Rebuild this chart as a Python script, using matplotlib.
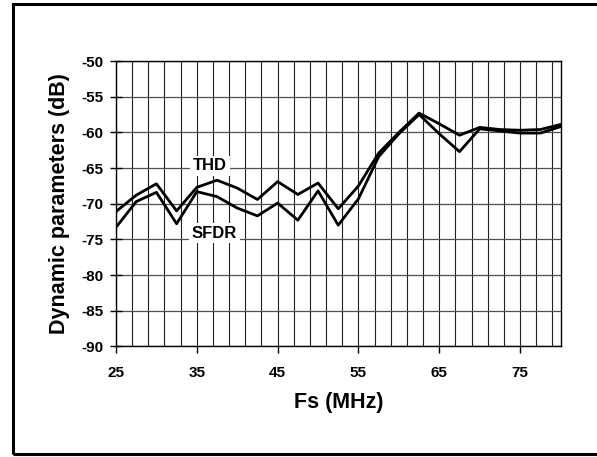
import numpy as np
import matplotlib
matplotlib.use("Agg")
import matplotlib.pyplot as plt
from matplotlib.patches import Rectangle

plt.rcParams['font.family'] = ['Liberation Sans', 'DejaVu Sans']
plt.rcParams['font.weight'] = 'bold'
plt.rcParams['axes.unicode_minus'] = False

# sampling frequency (MHz)
fs = [25, 27.5, 30, 32.5, 35, 37.5, 40, 42.5, 45, 47.5, 50, 52.5,
      55, 57.5, 60, 62.5, 65, 67.5, 70, 72.5, 75, 77.5, 80]
# THD and SFDR (dB)
thd = [-71.1, -68.8, -67.2, -71.0, -67.7, -66.7, -67.8, -69.4, -66.9, -68.7, -67.1, -70.7,
       -67.5, -62.9, -60.0, -57.3, -58.8, -60.4, -59.3, -59.6, -59.7, -59.6, -58.9]
sfdr = [-73.3, -69.7, -68.4, -72.8, -68.3, -69.0, -70.6, -71.7, -69.9, -72.3, -68.2, -73.0,
        -69.3, -63.4, -60.2, -57.5, -60.2, -62.7, -59.5, -59.8, -60.1, -60.1, -59.2]

xticks = [25, 35, 45, 55, 65, 75]
yticks = [-90, -85, -80, -75, -70, -65, -60, -55, -50]

fig = plt.figure(figsize=(5.97, 4.57), dpi=100)
ax = fig.add_axes([0.1943, 0.2418, 0.7446, 0.6247])

ax.plot(fs, thd, color='black', lw=2.0, zorder=3)
ax.plot(fs, sfdr, color='black', lw=2.0, zorder=3)

ax.set_xlim(25, 80)
ax.set_ylim(-90, -50)
ax.set_xticks(xticks)
ax.set_xticks(np.arange(25, 80, 2), minor=True)
ax.set_yticks(yticks)

ax.grid(True, which='both', axis='x', color='#202020', lw=0.8, zorder=1)
ax.grid(True, which='major', axis='y', color='#505050', lw=0.9, zorder=1)

ax.tick_params(axis='x', which='major', direction='out', length=5, width=1,
               labelsize=11, pad=9)
ax.tick_params(axis='x', which='minor', length=0)
ax.tick_params(axis='y', direction='inout', length=8, width=1,
               labelsize=11, pad=5)
for lab in ax.get_xticklabels() + ax.get_yticklabels():
    lab.set_fontweight('bold')

for sp in ax.spines.values():
    sp.set_color('black')
    sp.set_linewidth(1.0)

ax.set_xlabel('Fs (MHz)', fontsize=15.5, fontweight='bold', labelpad=9)
ax.set_ylabel('Dynamic parameters (dB)', fontsize=15.5, fontweight='bold', labelpad=8)

# series labels with white boxes over the grid
ax.text(36.6, -64.7, 'THD', ha='center', va='center', fontsize=12, fontweight='bold',
        bbox=dict(facecolor='white', edgecolor='none', pad=2), zorder=4)
ax.text(37.2, -74.1, 'SFDR', ha='center', va='center', fontsize=12, fontweight='bold',
        bbox=dict(facecolor='white', edgecolor='none', pad=2), zorder=4)

# outer frame (right side cut off in the original)
fig.patches.append(Rectangle((0.0213, 0.0066), 1.05, 0.9847, transform=fig.transFigure,
                             fill=False, edgecolor='black', lw=2.2))

fig.savefig('out.png', dpi=100)
